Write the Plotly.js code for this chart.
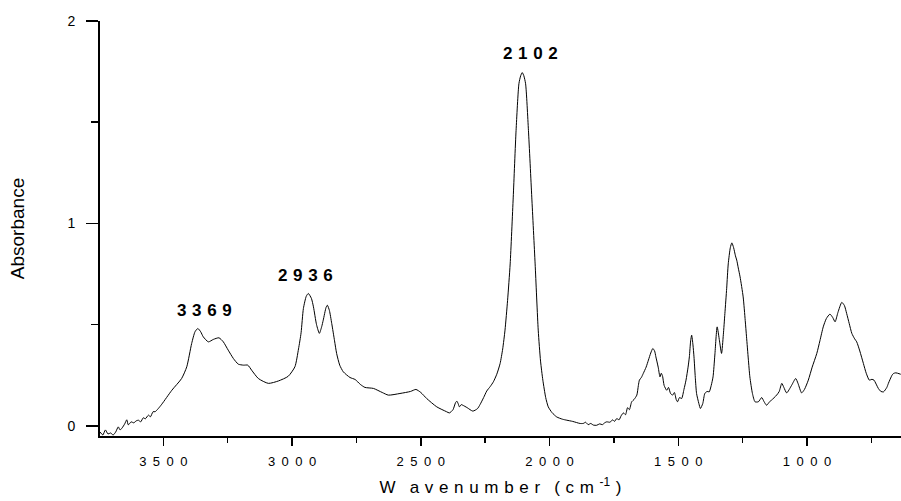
<!DOCTYPE html>
<html>
<head>
<meta charset="utf-8">
<script src="https://cdn.plot.ly/plotly-3.0.1.min.js"></script>
<style>
  html, body { margin: 0; padding: 0; background: #fff; }
  #chart { width: 901px; height: 501px; }
</style>
</head>
<body>
<div id="chart"></div>
<script>
// Wavenumber (cm-1)
const wavenumber = [
  3746, 3735, 3725, 3715, 3705, 3695, 3685, 3675, 3668, 3660, 3650, 3642, 3636, 3625, 3615, 3605,
  3597, 3588, 3578, 3570, 3558, 3550, 3540, 3532, 3520, 3506, 3467, 3429, 3409, 3390, 3377, 3366,
  3355, 3345, 3325, 3306, 3284, 3267, 3248, 3228, 3209, 3189, 3172, 3157, 3131, 3092, 3053, 3015,
  2989, 2975, 2965, 2956, 2945, 2937, 2925, 2917, 2905, 2894, 2885, 2879, 2868, 2863, 2855, 2846,
  2835, 2827, 2815, 2801, 2775, 2755, 2735, 2717, 2684, 2650, 2626, 2581, 2540, 2519, 2500, 2477,
  2438, 2400, 2389, 2375, 2365, 2360, 2355, 2350, 2343, 2337, 2320, 2298, 2280, 2270, 2256, 2244,
  2230, 2218, 2205, 2192, 2182, 2173, 2163, 2153, 2141, 2130, 2119, 2112, 2106, 2100, 2093, 2082,
  2069, 2056, 2044, 2035, 2026, 2015, 2005, 1990, 1972, 1950, 1933, 1910, 1882, 1869, 1860, 1850,
  1840, 1830, 1817, 1805, 1795, 1785, 1778, 1765, 1755, 1748, 1739, 1730, 1722, 1713, 1705, 1697,
  1690, 1681, 1672, 1661, 1655, 1651, 1643, 1636, 1625, 1616, 1607, 1599, 1592, 1587, 1578, 1571,
  1566, 1561, 1555, 1545, 1538, 1530, 1522, 1515, 1508, 1503, 1495, 1487, 1478, 1470, 1462, 1457,
  1452, 1448, 1443, 1439, 1434, 1429, 1420, 1414, 1405, 1397, 1388, 1380, 1372, 1365, 1358, 1349,
  1340, 1332, 1325, 1319, 1312, 1306, 1298, 1292, 1285, 1278, 1273, 1267, 1260, 1248, 1240, 1235,
  1228, 1222, 1212, 1202, 1189, 1176, 1167, 1157, 1145, 1138, 1118, 1108, 1098, 1090, 1079, 1060,
  1044, 1035, 1021, 1010, 995, 980, 962, 950, 937, 925, 911, 900, 891, 880, 865, 855,
  846, 836, 826, 815, 807, 795, 781, 770, 758, 748, 740, 723, 713, 703, 690, 684,
  670, 664, 655, 636
];
// Absorbance at each wavenumber
const absorbance = [
  -0.030, -0.045, -0.020, -0.040, -0.035, -0.045, -0.030, -0.005, -0.020, -0.010, 0.010, 0.030, 0.005, 0.020, 0.015, 0.025,
  0.028, 0.020, 0.040, 0.035, 0.053, 0.045, 0.070, 0.070, 0.085, 0.107, 0.176, 0.234, 0.292, 0.407, 0.465, 0.481,
  0.465, 0.440, 0.415, 0.427, 0.435, 0.415, 0.374, 0.333, 0.305, 0.300, 0.300, 0.275, 0.234, 0.210, 0.222, 0.245,
  0.292, 0.380, 0.460, 0.580, 0.640, 0.654, 0.630, 0.588, 0.500, 0.457, 0.490, 0.522, 0.585, 0.596, 0.570, 0.506,
  0.420, 0.358, 0.300, 0.267, 0.239, 0.229, 0.205, 0.190, 0.185, 0.165, 0.152, 0.160, 0.170, 0.180, 0.165, 0.135,
  0.094, 0.070, 0.064, 0.080, 0.115, 0.122, 0.110, 0.094, 0.105, 0.102, 0.090, 0.073, 0.085, 0.105, 0.140, 0.172,
  0.195, 0.218, 0.255, 0.308, 0.380, 0.473, 0.620, 0.800, 1.130, 1.460, 1.690, 1.730, 1.745, 1.730, 1.690, 1.460,
  1.130, 0.800, 0.473, 0.320, 0.226, 0.140, 0.094, 0.065, 0.044, 0.033, 0.028, 0.022, 0.012, 0.012, 0.018, 0.006,
  0.012, 0.004, 0.003, 0.010, 0.006, 0.016, 0.020, 0.018, 0.030, 0.022, 0.036, 0.030, 0.050, 0.064, 0.055, 0.090,
  0.080, 0.119, 0.130, 0.152, 0.200, 0.226, 0.240, 0.259, 0.290, 0.325, 0.360, 0.382, 0.370, 0.341, 0.290, 0.242,
  0.260, 0.245, 0.200, 0.176, 0.190, 0.160, 0.152, 0.165, 0.130, 0.119, 0.140, 0.135, 0.180, 0.226, 0.290, 0.341,
  0.420, 0.448, 0.400, 0.341, 0.240, 0.160, 0.110, 0.086, 0.110, 0.160, 0.170, 0.168, 0.200, 0.242, 0.350, 0.489,
  0.420, 0.358, 0.450, 0.555, 0.680, 0.800, 0.880, 0.904, 0.880, 0.840, 0.819, 0.780, 0.736, 0.637, 0.520, 0.440,
  0.330, 0.242, 0.160, 0.119, 0.119, 0.140, 0.120, 0.102, 0.120, 0.127, 0.152, 0.170, 0.210, 0.190, 0.163, 0.200,
  0.234, 0.210, 0.163, 0.180, 0.226, 0.290, 0.358, 0.420, 0.489, 0.530, 0.552, 0.535, 0.514, 0.560, 0.610, 0.595,
  0.555, 0.505, 0.457, 0.430, 0.415, 0.370, 0.308, 0.260, 0.226, 0.230, 0.226, 0.185, 0.170, 0.168, 0.190, 0.210,
  0.250, 0.259, 0.262, 0.255
];
const xTickValues = [3500, 3000, 2500, 2000, 1500, 1000];
const xTickLabels = ['3500', '3000', '2500', '2000', '1500', '1000'];
const yTickValues = [0, 1, 2];
const yTickLabels = ['0', '1', '2'];
const peakLabels = ['3369', '2936', '2102'];

const spaced = (s, sep) => s.split('').join(sep);
const FONT = 'Arial, "Liberation Sans", sans-serif';
const GAP = '\u2004';

const trace = {
  x: wavenumber,
  y: absorbance,
  type: 'scatter',
  mode: 'lines',
  line: { color: '#000', width: 1, shape: 'spline', smoothing: 0.6 },
  hoverinfo: 'skip'
};

const labelPos = [
  { x: 3342, y: 0.569 },
  { x: 2947, y: 0.745 },
  { x: 2073, y: 1.840 }
];

const annotations = peakLabels.map((t, i) => ({
  x: labelPos[i].x, y: labelPos[i].y, xref: 'x', yref: 'y',
  text: '<b>' + spaced(t, GAP) + '</b>',
  showarrow: false,
  font: { family: FONT, size: 17, color: '#000' },
  xanchor: 'center', yanchor: 'middle'
}));

const xTitle = 'W\u2002' + GAP + spaced('avenumber', GAP) + '\u2002' + GAP + '(' + GAP + 'c' + GAP + 'm' + GAP + '<sup>-1</sup>' + GAP + ')';

const layout = {
  width: 901, height: 501,
  margin: { l: 100, r: 0, t: 21, b: 65 },
  paper_bgcolor: '#fff', plot_bgcolor: '#fff',
  showlegend: false,
  font: { family: FONT, color: '#000' },
  xaxis: {
    range: [3746, 635],
    tickmode: 'array',
    tickvals: xTickValues,
    ticktext: xTickLabels.map(s => spaced(s, '\u2002')),
    ticks: 'outside', ticklen: 8, tickwidth: 1.5, tickcolor: '#000',
    minor: { dtick: 250, tick0: 0, ticks: 'outside', ticklen: 5, tickwidth: 1.5, tickcolor: '#000', showgrid: false },
    showline: true, linecolor: '#000', linewidth: 2,
    showgrid: false, zeroline: false,
    tickfont: { family: FONT, size: 13, color: '#000' },
    ticklabelstandoff: 4,
    title: {
      text: xTitle,
      font: { family: FONT, size: 17, color: '#000' },
      standoff: 14
    },
    automargin: false
  },
  yaxis: {
    range: [-0.05, 2],
    tickmode: 'array',
    tickvals: yTickValues,
    ticktext: yTickLabels,
    ticks: 'outside', ticklen: 12, tickwidth: 1.5, tickcolor: '#000',
    minor: { dtick: 0.5, tick0: 0, ticks: 'outside', ticklen: 7, tickwidth: 1.5, tickcolor: '#000', showgrid: false },
    showline: true, linecolor: '#000', linewidth: 2,
    showgrid: false, zeroline: false,
    tickfont: { family: FONT, size: 14, color: '#000' },
    ticklabelstandoff: 8,
    title: {
      text: 'Absorbance',
      font: { family: FONT, size: 19, color: '#000' },
      standoff: 38
    },
    automargin: false
  },
  annotations: annotations
};

Plotly.newPlot('chart', [trace], layout, { staticPlot: true, displayModeBar: false });
</script>
</body>
</html>
